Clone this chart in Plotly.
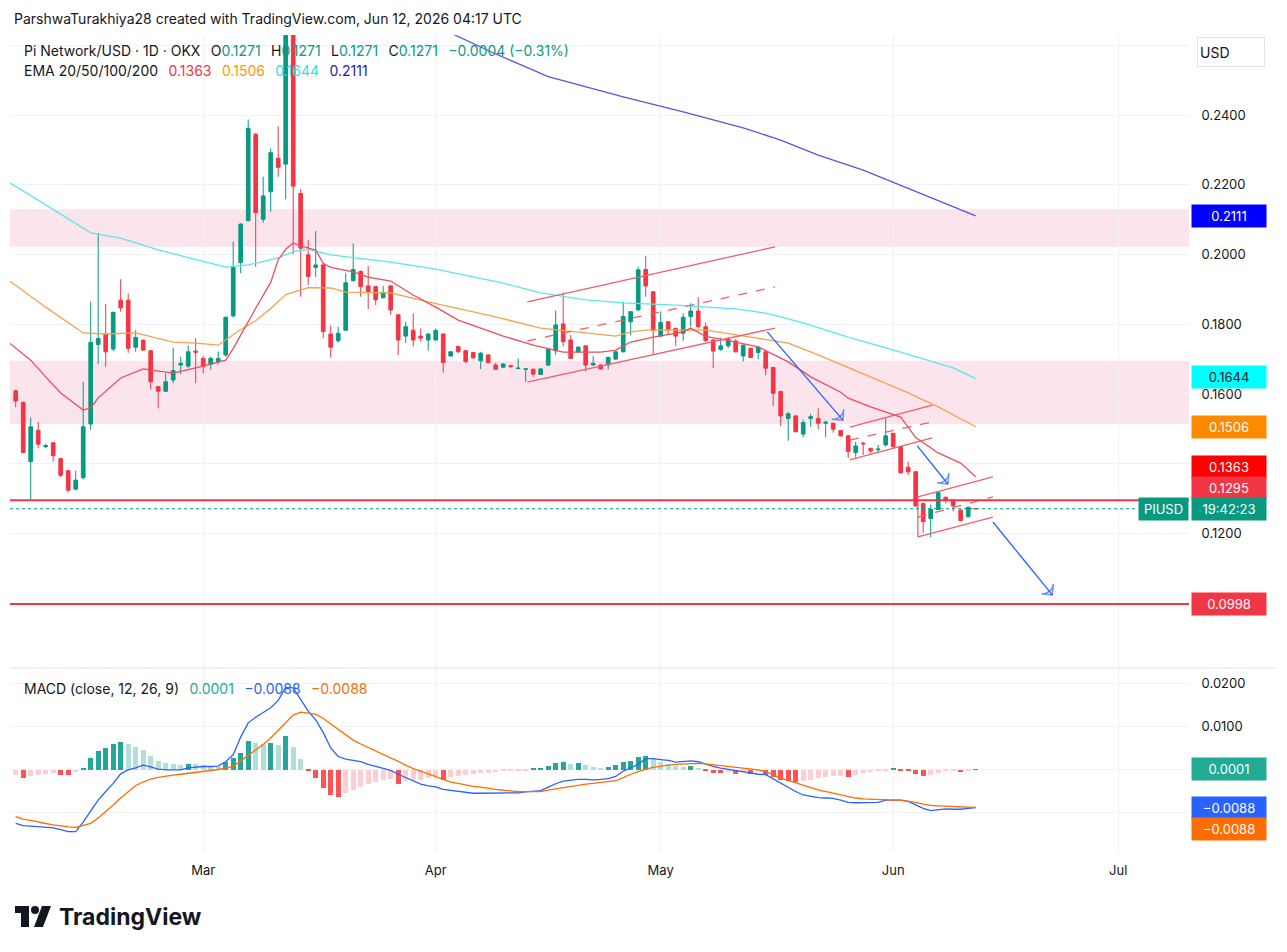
import plotly.graph_objects as go
import pandas as pd

# ---------------- DATA ----------------
FIRST_DAY = "2026-02-04"

opens = [
    0.1609, 0.1576, 0.1406, 0.1496, 0.1449, 0.1460, 0.1415, 0.1380, 0.1327, 0.1360,
    0.1514, 0.1742, 0.1772, 0.1729, 0.1869, 0.1869, 0.1734, 0.1754, 0.1724, 0.1621,
    0.1608, 0.1640, 0.1683, 0.1680, 0.1723, 0.1702, 0.1685, 0.1693, 0.1712, 0.1824,
    0.1977, 0.2097, 0.2345, 0.2101, 0.2180, 0.2276, 0.2259, 0.2680, 0.2175, 0.1999,
    0.1963, 0.1970, 0.1772, 0.1753, 0.1783, 0.1925, 0.1951, 0.1910, 0.1908, 0.1876,
    0.1910, 0.1827, 0.1766, 0.1783, 0.1766, 0.1755, 0.1755, 0.1772, 0.1709, 0.1736,
    0.1724, 0.1719, 0.1695, 0.1712, 0.1683, 0.1677, 0.1681, 0.1673, 0.1671, 0.1671,
    0.1656, 0.1683, 0.1724, 0.1801, 0.1755, 0.1721, 0.1738, 0.1683, 0.1683, 0.1683,
    0.1700, 0.1721, 0.1807, 0.1841, 0.1957, 0.1893, 0.1766, 0.1807, 0.1788, 0.1774,
    0.1822, 0.1838, 0.1793, 0.1755, 0.1728, 0.1738, 0.1752, 0.1709, 0.1731, 0.1719,
    0.1721, 0.1676, 0.1607, 0.1530, 0.1537, 0.1485, 0.1530, 0.1530, 0.1516, 0.1516,
    0.1495, 0.1480, 0.1432, 0.1459, 0.1444, 0.1440, 0.1454, 0.1487, 0.1449, 0.1390,
    0.1377, 0.1286, 0.1243, 0.1269, 0.1304, 0.1296, 0.1267, 0.1248, 0.1271,
]
highs = [
    0.1612, 0.1578, 0.1533, 0.1520, 0.1457, 0.1462, 0.1417, 0.1382, 0.1380, 0.1635,
    0.1865, 0.2062, 0.1858, 0.1836, 0.1929, 0.1888, 0.1783, 0.1757, 0.1726, 0.1623,
    0.1659, 0.1733, 0.1707, 0.1739, 0.1760, 0.1709, 0.1707, 0.1722, 0.1822, 0.2037,
    0.2090, 0.2387, 0.2348, 0.2223, 0.2304, 0.2368, 0.2750, 0.2700, 0.2187, 0.2042,
    0.2067, 0.1975, 0.1796, 0.1793, 0.1946, 0.2032, 0.1955, 0.1967, 0.1910, 0.1910,
    0.1912, 0.1829, 0.1807, 0.1831, 0.1788, 0.1774, 0.1788, 0.1774, 0.1723, 0.1738,
    0.1726, 0.1721, 0.1721, 0.1714, 0.1690, 0.1688, 0.1683, 0.1702, 0.1674, 0.1673,
    0.1673, 0.1730, 0.1839, 0.1891, 0.1769, 0.1738, 0.1740, 0.1709, 0.1685, 0.1707,
    0.1723, 0.1865, 0.1838, 0.1965, 0.1996, 0.1895, 0.1836, 0.1809, 0.1790, 0.1831,
    0.1860, 0.1877, 0.1805, 0.1757, 0.1762, 0.1764, 0.1757, 0.1742, 0.1733, 0.1738,
    0.1723, 0.1678, 0.1609, 0.1549, 0.1540, 0.1527, 0.1543, 0.1559, 0.1524, 0.1518,
    0.1497, 0.1482, 0.1463, 0.1463, 0.1446, 0.1454, 0.1533, 0.1489, 0.1451, 0.1406,
    0.1379, 0.1288, 0.1283, 0.1320, 0.1306, 0.1298, 0.1269, 0.1277, 0.1271,
]
lows = [
    0.1562, 0.1430, 0.1298, 0.1444, 0.1444, 0.1406, 0.1362, 0.1318, 0.1325, 0.1355,
    0.1497, 0.1686, 0.1678, 0.1723, 0.1836, 0.1718, 0.1721, 0.1724, 0.1613, 0.1559,
    0.1606, 0.1631, 0.1657, 0.1674, 0.1631, 0.1659, 0.1669, 0.1685, 0.1707, 0.1820,
    0.1946, 0.2095, 0.1965, 0.2091, 0.2123, 0.2223, 0.2158, 0.2001, 0.1879, 0.1913,
    0.1935, 0.1760, 0.1705, 0.1747, 0.1781, 0.1923, 0.1879, 0.1844, 0.1855, 0.1874,
    0.1827, 0.1712, 0.1747, 0.1736, 0.1750, 0.1724, 0.1753, 0.1661, 0.1707, 0.1718,
    0.1688, 0.1700, 0.1671, 0.1688, 0.1669, 0.1675, 0.1674, 0.1672, 0.1635, 0.1648,
    0.1655, 0.1680, 0.1712, 0.1736, 0.1700, 0.1719, 0.1664, 0.1681, 0.1670, 0.1670,
    0.1698, 0.1719, 0.1769, 0.1839, 0.1879, 0.1715, 0.1764, 0.1769, 0.1738, 0.1753,
    0.1793, 0.1788, 0.1750, 0.1674, 0.1724, 0.1731, 0.1719, 0.1693, 0.1703, 0.1699,
    0.1653, 0.1566, 0.1508, 0.1466, 0.1489, 0.1476, 0.1506, 0.1499, 0.1476, 0.1489,
    0.1478, 0.1416, 0.1418, 0.1425, 0.1430, 0.1432, 0.1449, 0.1447, 0.1372, 0.1368,
    0.1277, 0.1202, 0.1189, 0.1267, 0.1286, 0.1263, 0.1235, 0.1246, 0.1271,
]
closes = [
    0.1580, 0.1432, 0.1506, 0.1456, 0.1452, 0.1423, 0.1367, 0.1324, 0.1353, 0.1506,
    0.1748, 0.1759, 0.1721, 0.1834, 0.1847, 0.1731, 0.1762, 0.1726, 0.1635, 0.1608,
    0.1635, 0.1667, 0.1688, 0.1721, 0.1720, 0.1678, 0.1702, 0.1702, 0.1820, 0.1963,
    0.2087, 0.2362, 0.2120, 0.2168, 0.2292, 0.2250, 0.2680, 0.2196, 0.2018, 0.1937,
    0.1970, 0.1779, 0.1734, 0.1774, 0.1919, 0.1957, 0.1908, 0.1893, 0.1870, 0.1891,
    0.1841, 0.1755, 0.1793, 0.1755, 0.1760, 0.1772, 0.1782, 0.1690, 0.1721, 0.1721,
    0.1693, 0.1704, 0.1717, 0.1690, 0.1671, 0.1686, 0.1679, 0.1674, 0.1672, 0.1657,
    0.1672, 0.1728, 0.1798, 0.1750, 0.1702, 0.1734, 0.1683, 0.1688, 0.1672, 0.1705,
    0.1721, 0.1822, 0.1836, 0.1956, 0.1910, 0.1782, 0.1805, 0.1784, 0.1766, 0.1820,
    0.1838, 0.1793, 0.1753, 0.1723, 0.1738, 0.1757, 0.1721, 0.1740, 0.1705, 0.1734,
    0.1674, 0.1602, 0.1537, 0.1543, 0.1492, 0.1518, 0.1535, 0.1516, 0.1519, 0.1499,
    0.1480, 0.1435, 0.1451, 0.1457, 0.1437, 0.1442, 0.1480, 0.1449, 0.1374, 0.1377,
    0.1279, 0.1234, 0.1269, 0.1317, 0.1296, 0.1279, 0.1237, 0.1275, 0.1271,
]

ema20_dates = ["2026-02-03", "2026-02-06", "2026-02-08", "2026-02-10", "2026-02-13", "2026-02-14",
               "2026-02-15", "2026-02-18", "2026-02-21", "2026-02-25", "2026-02-28", "2026-03-04",
               "2026-03-05", "2026-03-06", "2026-03-08", "2026-03-10", "2026-03-11", "2026-03-12",
               "2026-03-13", "2026-03-14", "2026-03-16", "2026-03-17", "2026-03-18", "2026-03-21",
               "2026-03-23", "2026-03-26", "2026-03-29", "2026-04-01", "2026-04-04", "2026-04-10",
               "2026-04-14", "2026-04-18", "2026-04-23", "2026-04-25", "2026-04-27", "2026-04-30",
               "2026-05-04", "2026-05-05", "2026-05-07", "2026-05-11", "2026-05-14", "2026-05-18",
               "2026-05-21", "2026-05-25", "2026-05-26", "2026-05-29", "2026-06-02", "2026-06-04",
               "2026-06-07", "2026-06-10", "2026-06-12"]
ema20_vals = [0.1749, 0.1697, 0.1649, 0.1603, 0.1554, 0.1560,
              0.1589, 0.1646, 0.1672, 0.1660, 0.1675, 0.1697,
              0.1730, 0.1770, 0.1846, 0.1920, 0.1985, 0.2015,
              0.2033, 0.2025, 0.2013, 0.1975, 0.1963, 0.1950,
              0.1935, 0.1924, 0.1884, 0.1849, 0.1812, 0.1766,
              0.1740, 0.1720, 0.1720, 0.1726, 0.1749, 0.1763,
              0.1778, 0.1789, 0.1765, 0.1749, 0.1735, 0.1692,
              0.1649, 0.1605, 0.1588, 0.1563, 0.1534, 0.1475,
              0.1431, 0.1402, 0.1363]

ema50_dates = ["2026-02-03", "2026-02-08", "2026-02-13", "2026-02-16", "2026-02-20", "2026-02-25",
               "2026-02-28", "2026-03-03", "2026-03-06", "2026-03-08", "2026-03-10", "2026-03-12",
               "2026-03-15", "2026-03-18", "2026-03-20", "2026-03-26", "2026-03-31", "2026-04-09",
               "2026-04-15", "2026-04-21", "2026-04-25", "2026-04-27", "2026-04-29", "2026-05-03",
               "2026-05-07", "2026-05-13", "2026-05-18", "2026-05-22", "2026-05-26", "2026-05-30",
               "2026-06-03", "2026-06-07", "2026-06-12"]
ema50_vals = [0.1927, 0.1849, 0.1775, 0.1772, 0.1775, 0.1749,
              0.1746, 0.1740, 0.1785, 0.1810, 0.1845, 0.1885,
              0.1905, 0.1904, 0.1892, 0.1890, 0.1864, 0.1821,
              0.1789, 0.1775, 0.1766, 0.1778, 0.1783, 0.1783,
              0.1783, 0.1763, 0.1746, 0.1712, 0.1677, 0.1640,
              0.1603, 0.1563, 0.1506]

ema100_dates = ["2026-02-03", "2026-02-07", "2026-02-14", "2026-02-18", "2026-02-23", "2026-03-04",
                "2026-03-07", "2026-03-11", "2026-03-13", "2026-03-15", "2026-03-18", "2026-03-26",
                "2026-04-01", "2026-04-10", "2026-04-15", "2026-04-21", "2026-04-26", "2026-05-03",
                "2026-05-11", "2026-05-15", "2026-05-20", "2026-05-26", "2026-06-02", "2026-06-09",
                "2026-06-12"]
ema100_vals = [0.2208, 0.2156, 0.2062, 0.2047, 0.2013, 0.1964,
               0.1970, 0.1990, 0.2008, 0.2015, 0.1999, 0.1978,
               0.1958, 0.1918, 0.1890, 0.1870, 0.1861, 0.1855,
               0.1844, 0.1832, 0.1804, 0.1763, 0.1720, 0.1675,
               0.1644]

ema200_dates = ["2026-04-01", "2026-04-09", "2026-04-16", "2026-04-26", "2026-05-04", "2026-05-12",
                "2026-05-17", "2026-05-22", "2026-05-28", "2026-06-02", "2026-06-07", "2026-06-12"]
ema200_vals = [0.2655, 0.2575, 0.2510, 0.2452, 0.2409, 0.2363,
               0.2328, 0.2285, 0.2242, 0.2199, 0.2156, 0.2111]

macd_line = [
    -0.0125, -0.0130, -0.0131, -0.0132, -0.0133, -0.0135, -0.0139, -0.0144, -0.0144, -0.0122,
    -0.0096, -0.0071, -0.0051, -0.0032, -0.0010, -0.0001, 0.0004, 0.0010, 0.0006, 0.0001,
    -0.0001, -0.0001, -0.0001, 0.0004, 0.0006, 0.0007, 0.0007, 0.0008, 0.0018, 0.0034,
    0.0075, 0.0108, 0.0121, 0.0132, 0.0143, 0.0160, 0.0190, 0.0189, 0.0162, 0.0135,
    0.0115, 0.0086, 0.0050, 0.0030, 0.0024, 0.0021, 0.0018, 0.0012, 0.0007, 0.0002,
    -0.0002, -0.0011, -0.0019, -0.0026, -0.0034, -0.0038, -0.0040, -0.0046, -0.0048, -0.0050,
    -0.0053, -0.0055, -0.0055, -0.0055, -0.0055, -0.0054, -0.0054, -0.0054, -0.0052, -0.0050,
    -0.0049, -0.0041, -0.0033, -0.0027, -0.0025, -0.0023, -0.0023, -0.0024, -0.0023, -0.0021,
    -0.0016, -0.0004, 0.0004, 0.0012, 0.0025, 0.0025, 0.0023, 0.0021, 0.0017, 0.0019,
    0.0020, 0.0018, 0.0012, 0.0007, 0.0003, 0.0000, -0.0003, -0.0006, -0.0009, -0.0011,
    -0.0012, -0.0022, -0.0033, -0.0042, -0.0051, -0.0059, -0.0062, -0.0065, -0.0066, -0.0067,
    -0.0071, -0.0076, -0.0077, -0.0077, -0.0077, -0.0076, -0.0071, -0.0071, -0.0071, -0.0074,
    -0.0082, -0.0090, -0.0095, -0.0093, -0.0091, -0.0092, -0.0092, -0.0090, -0.0088,
]
signal_line = [
    -0.0109, -0.0115, -0.0118, -0.0122, -0.0125, -0.0128, -0.0131, -0.0133, -0.0134, -0.0130,
    -0.0125, -0.0112, -0.0098, -0.0082, -0.0066, -0.0051, -0.0037, -0.0029, -0.0022, -0.0018,
    -0.0015, -0.0013, -0.0011, -0.0009, -0.0007, -0.0005, -0.0002, 0.0000, 0.0003, 0.0007,
    0.0020, 0.0032, 0.0044, 0.0058, 0.0073, 0.0090, 0.0108, 0.0126, 0.0133, 0.0131,
    0.0128, 0.0118, 0.0105, 0.0093, 0.0080, 0.0068, 0.0059, 0.0051, 0.0043, 0.0036,
    0.0027, 0.0019, 0.0010, 0.0002, -0.0004, -0.0010, -0.0016, -0.0022, -0.0029, -0.0032,
    -0.0036, -0.0039, -0.0041, -0.0044, -0.0046, -0.0048, -0.0050, -0.0051, -0.0051, -0.0051,
    -0.0051, -0.0048, -0.0045, -0.0042, -0.0039, -0.0036, -0.0034, -0.0032, -0.0030, -0.0028,
    -0.0026, -0.0019, -0.0011, -0.0005, 0.0001, 0.0005, 0.0008, 0.0010, 0.0012, 0.0013,
    0.0014, 0.0014, 0.0013, 0.0011, 0.0009, 0.0008, 0.0006, 0.0004, 0.0002, -0.0001,
    -0.0005, -0.0012, -0.0020, -0.0025, -0.0031, -0.0036, -0.0042, -0.0047, -0.0051, -0.0055,
    -0.0059, -0.0063, -0.0066, -0.0068, -0.0069, -0.0070, -0.0071, -0.0071, -0.0071, -0.0073,
    -0.0076, -0.0080, -0.0083, -0.0084, -0.0085, -0.0086, -0.0087, -0.0087, -0.0088,
]
macd_hist = [
    -0.00131, -0.00193, -0.00139, -0.00116, -0.00093, -0.00077, -0.00116, -0.00131, -0.00062, 0.00039,
    0.00270, 0.00425, 0.00502, 0.00602, 0.00641, 0.00579, 0.00525, 0.00448, 0.00309, 0.00193,
    0.00154, 0.00116, 0.00100, 0.00139, 0.00116, 0.00093, 0.00077, 0.00062, 0.00170, 0.00270,
    0.00386, 0.00656, 0.00618, 0.00602, 0.00618, 0.00556, 0.00772, 0.00525, 0.00232, -0.00039,
    -0.00193, -0.00425, -0.00579, -0.00633, -0.00540, -0.00463, -0.00401, -0.00347, -0.00293, -0.00247,
    -0.00216, -0.00324, -0.00270, -0.00247, -0.00232, -0.00193, -0.00170, -0.00232, -0.00170, -0.00139,
    -0.00116, -0.00093, -0.00085, -0.00077, -0.00069, -0.00039, -0.00031, -0.00023, -0.00015, 0.00015,
    0.00031, 0.00077, 0.00154, 0.00170, 0.00139, 0.00154, 0.00093, 0.00062, 0.00039, 0.00062,
    0.00093, 0.00170, 0.00193, 0.00293, 0.00324, 0.00232, 0.00170, 0.00116, 0.00077, 0.00062,
    0.00077, 0.00039, -0.00015, -0.00077, -0.00085, -0.00062, -0.00093, -0.00039, -0.00093, -0.00039,
    -0.00116, -0.00170, -0.00232, -0.00270, -0.00293, -0.00270, -0.00232, -0.00193, -0.00170, -0.00154,
    -0.00139, -0.00170, -0.00116, -0.00077, -0.00062, -0.00039, -0.00023, 0.00015, -0.00039, -0.00046,
    -0.00093, -0.00154, -0.00116, -0.00077, -0.00046, -0.00039, -0.00062, -0.00023, 0.00010,
]

# zones and levels (price)
zone_top = (0.2130, 0.2022)
zone_mid = (0.1695, 0.1514)
support_level = 0.1295
target_level = 0.0998
last_price = 0.1271

# drawn trend lines (date, price)
ch1_dates = ["2026-04-13 05:00", "2026-05-16 06:00"]
ch1_upper = [0.1864, 0.2022]
ch1_middle = [0.1752, 0.1907]
ch1_lower = [0.1634, 0.1789]
arrow1_dates = ["2026-05-15 05:00", "2026-05-25 07:00"]
arrow1_vals = [0.1778, 0.1525]
ch2_dates = ["2026-05-26 05:00", "2026-06-06 05:00"]
ch2_upper = [0.1505, 0.1568]
ch2_middle = [0.1468, 0.1520]
ch2_lower = [0.1411, 0.1474]
arrow2_dates = ["2026-06-04 05:00", "2026-06-08 07:00"]
arrow2_vals = [0.1451, 0.1342]
ch3_dates = ["2026-06-04 07:00", "2026-06-14 07:00"]
ch3_upper = [0.1305, 0.1362]
ch3_middle = [0.1247, 0.1305]
ch3_lower = [0.1190, 0.1247]
arrow3_dates = ["2026-06-14 07:00", "2026-06-22 05:00"]
arrow3_vals = [0.1233, 0.1024]

price_ticks = [0.10, 0.12, 0.14, 0.16, 0.18, 0.20, 0.22, 0.24, 0.26]
price_labels = ["", "0.1200", "", "0.1600", "0.1800", "0.2000", "0.2200", "0.2400", ""]
macd_ticks = [-0.01, 0.0, 0.01, 0.02]
macd_labels = ["", "", "0.0100", "0.0200"]
month_ticks = ["2026-03-01", "2026-04-01", "2026-05-01", "2026-06-01", "2026-07-01"]
month_labels = ["Mar", "Apr", "May", "Jun", "Jul"]

# ---------------- STYLE / LAYOUT ----------------
W, H = 1287, 952
PL, PR, PT, PB = 10, 1189, 35, 852
PANE_SPLIT = 668
FONT = "Inter, Roboto, Arial, sans-serif"
TXT = "#131722"
GREEN = "#089981"
RED = "#f23645"
GRID = "#f0f2f6"
BLUE_DRAW = "#2962ff"
X_RANGE = ["2026-02-03 05:45", "2026-07-10 10:34"]
PRICE_RANGE = [0.08143, 0.26294]
MACD_RANGE = [-0.01910, 0.02350]


def fx(px):
    return (px - PL) / (PR - PL)


def fy(py):
    return (PB - py) / (PB - PT)


split = fy(PANE_SPLIT)
dates = pd.date_range(FIRST_DAY, periods=len(opens), freq="D")


def fmt(v):
    return f"{v:.4f}".replace("-", "\u2212")


fig = go.Figure()

fig.add_trace(go.Candlestick(
    x=dates, open=opens, high=highs, low=lows, close=closes,
    xaxis="x", yaxis="y", whiskerwidth=0,
    increasing=dict(line=dict(color=GREEN, width=1), fillcolor=GREEN),
    decreasing=dict(line=dict(color=RED, width=1), fillcolor=RED),
    showlegend=False, hoverinfo="skip"))

for dts, vals, col in [(ema100_dates, ema100_vals, "#5ce6ee"),
                       (ema50_dates, ema50_vals, "#f5a24b"),
                       (ema20_dates, ema20_vals, "#ee4d5c"),
                       (ema200_dates, ema200_vals, "#5a55dc")]:
    fig.add_trace(go.Scatter(x=dts, y=vals, mode="lines", xaxis="x", yaxis="y",
                             line=dict(color=col, width=1.3), hoverinfo="skip", showlegend=False))

DRAW_RED = "#f0606e"
for dts, vals, dash in [(ch1_dates, ch1_upper, "solid"), (ch1_dates, ch1_middle, "dash"),
                        (ch1_dates, ch1_lower, "solid"),
                        (ch2_dates, ch2_upper, "solid"), (ch2_dates, ch2_middle, "dash"),
                        (ch2_dates, ch2_lower, "solid"),
                        (ch3_dates, ch3_upper, "solid"), (ch3_dates, ch3_middle, "dash"),
                        (ch3_dates, ch3_lower, "solid"),
                        ([ch3_dates[0], ch3_dates[0]], [ch3_upper[0], ch3_lower[0]], "solid")]:
    fig.add_trace(go.Scatter(x=dts, y=vals, mode="lines", xaxis="x", yaxis="y",
                             line=dict(color=DRAW_RED, width=1.3, dash=dash),
                             hoverinfo="skip", showlegend=False))

for dts, vals in [(arrow1_dates, arrow1_vals), (arrow2_dates, arrow2_vals), (arrow3_dates, arrow3_vals)]:
    fig.add_trace(go.Scatter(x=dts, y=vals, mode="lines+markers", xaxis="x", yaxis="y",
                             line=dict(color=BLUE_DRAW, width=1.3),
                             marker=dict(symbol=["circle", "arrow-wide-open"], size=[0, 11],
                                         angleref="previous", color=BLUE_DRAW,
                                         line=dict(color=BLUE_DRAW, width=1.4)),
                             hoverinfo="skip", showlegend=False))

# MACD histogram colors follow TradingView rule (grow/fall above/below zero)
hist_colors = []
for i, h in enumerate(macd_hist):
    prev = macd_hist[i - 1] if i > 0 else h - 1
    if h >= 0:
        hist_colors.append("#26a69a" if h > prev else "#b2dfdb")
    else:
        hist_colors.append("#ffcdd2" if h > prev else "#ff5252")

fig.add_trace(go.Bar(x=dates, y=macd_hist, marker=dict(color=hist_colors, line=dict(width=0)),
                     width=0.72 * 86400000, xaxis="x2", yaxis="y2", hoverinfo="skip", showlegend=False))
fig.add_trace(go.Scatter(x=dates, y=macd_line, mode="lines", xaxis="x2", yaxis="y2",
                         line=dict(color="#2962ff", width=1.3), hoverinfo="skip", showlegend=False))
fig.add_trace(go.Scatter(x=dates, y=signal_line, mode="lines", xaxis="x2", yaxis="y2",
                         line=dict(color="#ff6d00", width=1.3), hoverinfo="skip", showlegend=False))

axis_font = dict(family=FONT, size=13, color=TXT)
fig.update_layout(
    width=W, height=H,
    margin=dict(l=PL, r=W - PR, t=PT, b=H - PB, pad=0),
    paper_bgcolor="white", plot_bgcolor="white",
    showlegend=False, bargap=0,
    xaxis=dict(domain=[0, 1], anchor="y", type="date", range=X_RANGE,
               tickvals=month_ticks, showticklabels=False, showgrid=True, gridcolor=GRID,
               zeroline=False, showline=False, rangeslider=dict(visible=False), fixedrange=True),
    xaxis2=dict(domain=[0, 1], anchor="y2", type="date", range=X_RANGE, matches="x",
                tickvals=month_ticks, ticktext=month_labels, tickfont=axis_font,
                ticks="outside", ticklen=6, tickcolor="rgba(0,0,0,0)",
                showgrid=True, gridcolor=GRID, zeroline=False, showline=False),
    yaxis=dict(domain=[split, 1], anchor="x", side="right", range=PRICE_RANGE,
               tickvals=price_ticks, ticktext=price_labels, tickfont=axis_font,
               ticks="outside", ticklen=9, tickcolor="rgba(0,0,0,0)",
               showgrid=True, gridcolor=GRID, zeroline=False, showline=False),
    yaxis2=dict(domain=[0, split], anchor="x2", side="right", range=MACD_RANGE,
                tickvals=macd_ticks, ticktext=macd_labels, tickfont=axis_font,
                ticks="outside", ticklen=9, tickcolor="rgba(0,0,0,0)",
                showgrid=True, gridcolor=GRID, zeroline=False, showline=False),
)

shapes = []
for (y0, y1) in [zone_top, zone_mid]:
    shapes.append(dict(type="rect", xref="x domain", yref="y", x0=0, x1=1, y0=y0, y1=y1,
                       fillcolor="rgba(233,30,99,0.12)", line=dict(width=0), layer="below"))
for lvl in [support_level, target_level]:
    shapes.append(dict(type="line", xref="x domain", yref="y", x0=0, x1=1, y0=lvl, y1=lvl,
                       line=dict(color=RED, width=2)))
shapes.append(dict(type="line", xref="x domain", yref="y", x0=0, x1=fx(1138), y0=last_price, y1=last_price,
                   line=dict(color=GREEN, width=1, dash="dot")))
shapes.append(dict(type="line", xref="x2 domain", yref="y2", x0=0, x1=1, y0=0, y1=0,
                   line=dict(color="rgba(120,123,134,0.5)", width=1, dash="dash"), layer="below"))
shapes.append(dict(type="line", xref="paper", yref="paper", x0=fx(PL), x1=fx(1276),
                   y0=split, y1=split, line=dict(color="#e0e3eb", width=1)))
# TradingView logo mark
shapes.append(dict(type="path", xref="paper", yref="paper", fillcolor="#131722", line=dict(width=0),
                   path=f"M {fx(15)},{fy(906)} L {fx(29)},{fy(906)} L {fx(29)},{fy(927)} L {fx(21)},{fy(927)} "
                        f"L {fx(21)},{fy(913)} L {fx(15)},{fy(913)} Z"))
shapes.append(dict(type="circle", xref="paper", yref="paper", fillcolor="#131722", line=dict(width=0),
                   x0=fx(31), x1=fx(39), y0=fy(914), y1=fy(906)))
shapes.append(dict(type="path", xref="paper", yref="paper", fillcolor="#131722", line=dict(width=0),
                   path=f"M {fx(42)},{fy(906)} L {fx(51)},{fy(906)} L {fx(43)},{fy(927)} L {fx(34)},{fy(927)} Z"))
fig.update_layout(shapes=shapes)

ann = []


def text(px, py, s, size=14, color=TXT, anchor="left"):
    ann.append(dict(xref="paper", yref="paper", x=fx(px), y=fy(py), text=s, showarrow=False,
                    xanchor=anchor, yanchor="middle", font=dict(family=FONT, size=size, color=color)))


def span(s, c):
    return f"<span style='color:{c}'>{s}</span>"


sp = "\u00a0\u00a0\u2009"
text(12, 18, "ParshwaTurakhiya28 created with TradingView.com, Jun 12, 2026 04:17 UTC", 14)
change = closes[-1] - closes[-2]
pct = change / closes[-2] * 100
row1 = ("Pi Network/USD · 1D · OKX" + sp + "O" + span(fmt(opens[-1]), GREEN) + sp + "H" + span(fmt(highs[-1]), GREEN)
        + sp + "L" + span(fmt(lows[-1]), GREEN) + sp + "C" + span(fmt(closes[-1]), GREEN) + sp
        + span(f"{fmt(change)} ({pct:.2f}%)".replace("-", "\u2212"), GREEN))
text(22, 50, row1, 14)
row2 = ("EMA 20/50/100/200" + sp + span(fmt(ema20_vals[-1]), "#f23645") + sp + span(fmt(ema50_vals[-1]), "#ff9800")
        + sp + span(fmt(ema100_vals[-1]), "#33e0ec") + sp + span(fmt(ema200_vals[-1]), "#1e1eb4"))
text(22, 71, row2, 14)
row3 = ("MACD (close, 12, 26, 9)" + sp + span(fmt(macd_hist[-1]), "#22ab94") + sp + span(fmt(macd_line[-1]), "#2962ff")
        + sp + span(fmt(signal_line[-1]), "#ff6d00"))
text(22, 688, row3, 14)
text(57, 917, "<b>TradingView</b>", 23)


def axis_label(value, yref, s, bg, fg="white", shift=0):
    ann.append(dict(xref="paper", yref=yref, x=fx(1191), y=value, yshift=shift, text=s, showarrow=False,
                    xanchor="left", yanchor="middle", bgcolor=bg, width=68, borderpad=3, align="center",
                    font=dict(family=FONT, size=13, color=fg)))


axis_label(ema200_vals[-1], "y", fmt(ema200_vals[-1]), "#0000ff")
axis_label(ema100_vals[-1], "y", fmt(ema100_vals[-1]), "#00ffff", TXT, 2)
axis_label(ema50_vals[-1], "y", fmt(ema50_vals[-1]), "#ff8a00")
axis_label(ema20_vals[-1], "y", fmt(ema20_vals[-1]), "#ff0000", shift=10)
axis_label(support_level, "y", fmt(support_level), RED, shift=12)
axis_label(last_price, "y", "19:42:23", GREEN)
axis_label(target_level, "y", fmt(target_level), RED)
ann.append(dict(xref="paper", yref="y", x=fx(1138), y=last_price, text="PIUSD", showarrow=False,
                xanchor="left", yanchor="middle", bgcolor=GREEN, width=43, borderpad=3, align="center",
                font=dict(family=FONT, size=13, color="white")))
axis_label(macd_hist[-1], "y2", fmt(macd_hist[-1]), "#22ab94")
axis_label(macd_line[-1], "y2", fmt(macd_line[-1]), "#2962ff")
axis_label(signal_line[-1], "y2", fmt(signal_line[-1]), "#ff6d00", shift=-21)
ann.append(dict(xref="paper", yref="paper", x=fx(1197), y=fy(52), text="USD", showarrow=False,
                xanchor="left", yanchor="middle", bgcolor="white", bordercolor="#e0e3eb", borderwidth=1,
                width=62, height=24, align="left", borderpad=2,
                font=dict(family=FONT, size=14, color=TXT)))
fig.update_layout(annotations=ann)

fig.write_html("out.html", include_plotlyjs=True, config={"displayModeBar": False})
